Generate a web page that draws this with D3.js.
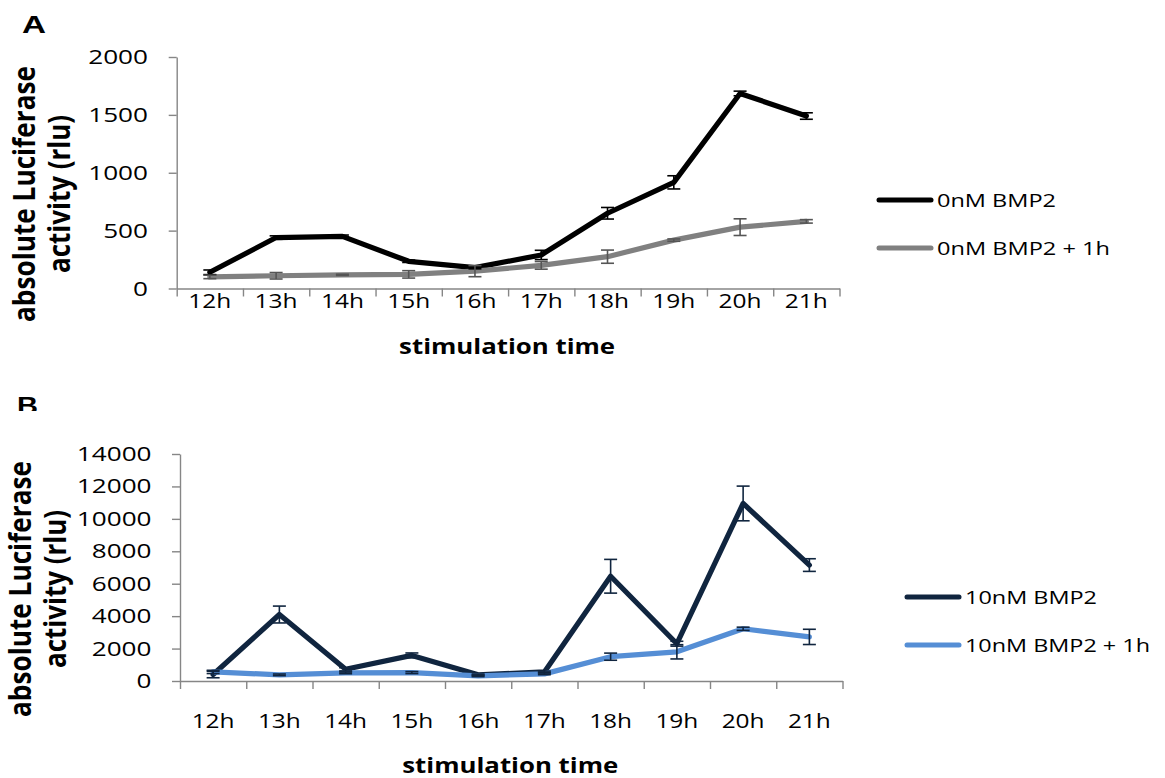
<!DOCTYPE html>
<html>
<head>
<meta charset="utf-8">
<script src="https://cdn.jsdelivr.net/npm/d3@7/dist/d3.min.js"></script>
<style>
  html, body { margin: 0; padding: 0; background: #fff; }
  svg { display: block; }
</style>
</head>
<body>
<svg id="chart" width="1165" height="778"></svg>
<script>
// Stimulation time points shared by both panels
const hours = ["12h", "13h", "14h", "15h", "16h", "17h", "18h", "19h", "20h", "21h"];

// Panel A: 0nM BMP2 (mean, error)
const a0nM      = [140, 440, 450, 235, 180, 290, 650, 917, 1685, 1490];
const a0nMErr   = [20, 15, 12, 10, 10, 40, 50, 57, 20, 28];
const a0nM1h    = [100, 110, 118, 122, 150, 200, 275, 418, 530, 580];
const a0nM1hErr = [15, 28, 5, 32, 48, 33, 57, 10, 72, 15];
const aTicks    = [0, 500, 1000, 1500, 2000];

// Panel B: 10nM BMP2 (mean, error)
const b10nM      = [400, 4100, 720, 1580, 380, 560, 6460, 2300, 10950, 7150];
const b10nMErr   = [200, 520, 100, 150, 50, 50, 1040, 150, 1070, 390];
const b10nM1h    = [560, 380, 500, 520, 320, 440, 1500, 1800, 3220, 2720];
const b10nM1hErr = [100, 50, 50, 60, 50, 50, 220, 440, 100, 470];
const bTicks     = [0, 2000, 4000, 6000, 8000, 10000, 12000, 14000];

const svg = d3.select("#chart");
svg.append("rect").attr("width", 1165).attr("height", 778).attr("fill", "#fff");

const SX = 1.34;              // horizontal text stretch of the figure
const FONT = "'Open Sans', 'Noto Sans', sans-serif";
const AXIS = "#868686";

function label(g, x, y, s, o = {}) {
  const size = o.size || 19.5, rot = o.rot || 0;
  const t = g.append("text")
    .attr("transform", `translate(${x},${y}) scale(${SX},1)` + (rot ? ` rotate(${rot})` : ""))
    .attr("text-anchor", o.anchor || "start")
    .attr("fill", o.fill || "#000")
    .style("font-family", o.family || FONT)
    .style("font-size", size + "px")
    .style("font-weight", o.weight || 400)
    .text(s);
  if (o.len) t.attr("textLength", rot ? o.len : o.len / SX).attr("lengthAdjust", "spacingAndGlyphs");
  return t;
}

function panel(cfg) {
  const g = svg.append("g");
  const x = d3.scaleBand().domain(hours).range([cfg.x0, cfg.x1]);
  const xb = d3.scaleLinear().domain([0, hours.length]).range([cfg.x0, cfg.x1]);
  const y = d3.scaleLinear().domain([0, d3.max(cfg.ticks)]).range([cfg.yBot, cfg.yTop]);
  const cx = h => x(h) + x.bandwidth() / 2;

  // y axis
  const ya = g.append("g").attr("transform", `translate(${cfg.x0},0)`)
    .call(d3.axisLeft(y).tickValues(cfg.ticks).tickSize(8).tickSizeOuter(0).tickFormat(""));
  ya.selectAll("path,line").attr("stroke", AXIS).attr("stroke-width", 1.4);
  cfg.ticks.forEach(v => label(g, cfg.labelRight, y(v) + 7, d3.format("d")(v), { anchor: "end" }));

  // x axis with ticks between categories
  const xa = g.append("g").attr("transform", `translate(0,${cfg.yBot})`)
    .call(d3.axisBottom(xb).tickValues(d3.range(hours.length + 1)).tickSize(8).tickSizeOuter(0).tickFormat(""));
  xa.selectAll("path,line").attr("stroke", AXIS).attr("stroke-width", 1.4);
  hours.forEach(h => label(g, cx(h), cfg.xLabelY, h, { anchor: "middle", len: 43 }));

  // axis titles
  label(g, (cfg.x0 + cfg.x1) / 2 - 1, cfg.xTitleY, "stimulation time",
        { anchor: "middle", size: 21, weight: 700, len: 216 });
  label(g, cfg.yTitleX1, cfg.yTitleCY, "absolute Luciferase",
        { anchor: "middle", size: 22, weight: 700, rot: -90, len: 256 });
  label(g, cfg.yTitleX2, cfg.yTitleCY, "activity (rlu)",
        { anchor: "middle", size: 22, weight: 700, rot: -90, len: 158 });

  // series lines
  const line = d3.line().x((d, i) => cx(hours[i])).y(d => y(d));
  cfg.series.forEach(s => {
    g.append("path").datum(s.values)
      .attr("d", line).attr("fill", "none")
      .attr("stroke", s.color).attr("stroke-width", 5.2)
      .attr("stroke-linejoin", "round").attr("stroke-linecap", "round");
  });

  // error bars
  cfg.series.forEach(s => {
    const eb = g.append("g").attr("stroke", s.errColor).attr("stroke-width", 1.6);
    s.values.forEach((v, i) => {
      const px = cx(hours[i]), lo = y(v - s.err[i]), hi = y(v + s.err[i]);
      eb.append("line").attr("x1", px).attr("x2", px).attr("y1", lo).attr("y2", hi);
      eb.append("line").attr("x1", px - 6.5).attr("x2", px + 6.5).attr("y1", lo).attr("y2", lo);
      eb.append("line").attr("x1", px - 6.5).attr("x2", px + 6.5).attr("y1", hi).attr("y2", hi);
    });
  });

  // legend
  cfg.series.forEach((s, i) => {
    const ly = cfg.legendY[i];
    g.append("line").attr("x1", cfg.legendX).attr("x2", cfg.legendX + 52)
      .attr("y1", ly).attr("y2", ly)
      .attr("stroke", s.color).attr("stroke-width", 5).attr("stroke-linecap", "round");
    label(g, cfg.legendX + 58, ly + 7, s.name, { size: 18, len: cfg.legendLen[i] });
  });
  return g;
}

panel({
  x0: 176.7, x1: 839.5, yTop: 57, yBot: 288.5, ticks: aTicks,
  labelRight: 148, xLabelY: 308, xTitleY: 354,
  yTitleX1: 35, yTitleX2: 70, yTitleCY: 194,
  legendX: 879, legendY: [200, 248], legendLen: [119, 173],
  series: [
    { name: "0nM BMP2", values: a0nM, err: a0nMErr, color: "#000000", errColor: "#000000" },
    { name: "0nM BMP2 + 1h", values: a0nM1h, err: a0nM1hErr, color: "#808080", errColor: "#555555" }
  ]
});

panel({
  x0: 180, x1: 842.5, yTop: 454, yBot: 681, ticks: bTicks,
  labelRight: 151.5, xLabelY: 728, xTitleY: 773,
  yTitleX1: 31, yTitleX2: 66, yTitleCY: 589,
  legendX: 907, legendY: [597, 645], legendLen: [132, 185],
  series: [
    { name: "10nM BMP2", values: b10nM, err: b10nMErr, color: "#10253F", errColor: "#10253F" },
    { name: "10nM BMP2 + 1h", values: b10nM1h, err: b10nM1hErr, color: "#558ED5", errColor: "#10253F" }
  ]
});

// panel letters
label(svg, 22, 33, "A", { size: 24, weight: 700, family: "'Liberation Sans', Arial, sans-serif", len: 24 });
svg.append("clipPath").attr("id", "clipB")
  .append("rect").attr("x", 0).attr("y", 380).attr("width", 80).attr("height", 31);
label(svg.append("g").attr("clip-path", "url(#clipB)"), 17, 414, "B",
      { size: 24, weight: 700, family: "'Liberation Sans', Arial, sans-serif", len: 21 });
</script>
</body>
</html>
